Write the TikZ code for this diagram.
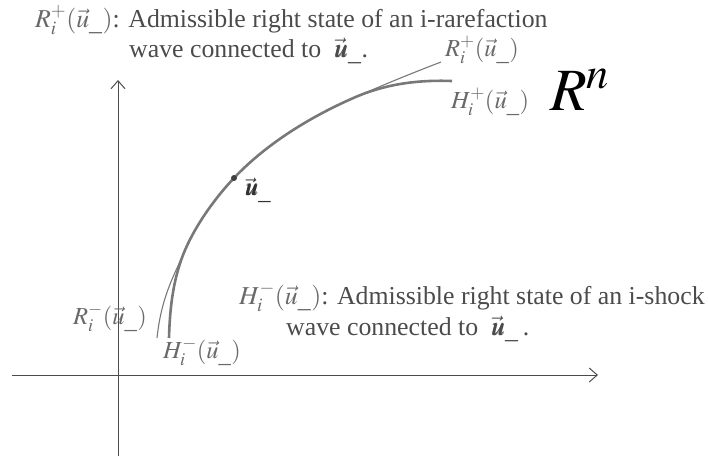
\documentclass[tikz,border=0pt]{standalone}
\usepackage{mathptmx}
\usepackage{bm}
\usepackage[no-math]{fontspec}
\setmainfont{Liberation Serif}
\usepackage{xcolor}
\usetikzlibrary{arrows.meta, positioning, calc}
\definecolor{curvegray}{RGB}{120,120,120}
\definecolor{labelgray}{RGB}{105,105,105}
\definecolor{textgray}{RGB}{75,75,75}
\newcommand{\um}{\vec{u}_{\_}}
\begin{document}
\begin{tikzpicture}[x=1pt, y=-1pt, font=\fontsize{24.5}{29}\selectfont,
  axis/.style={draw=black!70, line width=1pt, -{Straight Barb[length=8pt, width=14pt]}},
  lbl/.style={text=labelgray, inner sep=0pt},
  note/.style={text=textgray, inner sep=0pt, anchor=base west, font=\fontsize{25.8}{30}\selectfont}]
  \useasboundingbox (0,0) rectangle (708,456);
  % axes
  \coordinate (xl) at (12,375);
  \coordinate (xr) at (598,375);
  \coordinate (yb) at (118,456);
  \coordinate (yt) at (118,80);
  \draw[axis] (xl) -- (xr);
  \draw[axis] (yb) -- (yt);
  % wave curves
  \coordinate (um) at (234,178);
  \coordinate (lo) at (183,255);
  \coordinate (hi) at (358,96);
  \coordinate (Rlo) at (157,338);
  \coordinate (Hlo) at (169,338);
  \coordinate (Rhi) at (441,62);
  \coordinate (Hhi) at (452,81);
  \draw[curvegray, line width=1.1pt] (Rlo) .. controls (161,300) and (172,279) .. (lo)
    .. controls (194,227) and (215,198) .. (um)
    .. controls (270,140) and (318,113) .. (hi)
    .. controls (390,82) and (415,72) .. (Rhi);
  \draw[curvegray, line width=2.6pt] (Hlo) .. controls (170,300) and (175,276) .. (lo)
    .. controls (194,227) and (215,198) .. (um)
    .. controls (270,140) and (318,113) .. (hi)
    .. controls (392,82) and (425,80) .. (Hhi);
  \fill[black!75] (um) circle (3pt);
  \node[inner sep=0pt, text=black!80] (umlbl) at (258,190) {$\bm{\um}$};
  % curve labels
  \node[lbl] (Rplus) at (482,50) {$R_i^+(\um)$};
  \node[lbl] (Hplus) at (490,102) {$H_i^+(\um)$};
  \node[lbl] (Rminus) at (110,318) {$R_i^-(\um)$};
  \node[lbl] (Hminus) at (202,352) {$H_i^-(\um)$};
  \node[inner sep=0pt] (space) at (580,90) {\fontsize{60}{64}\selectfont$R^n$};
  % explanations
  \node[note] (topA) at (35,27) {\textcolor{labelgray}{$R_i^+(\um)$}: Admissible right state of an i-rarefaction};
  \node[note] (topB) at (129,57) {wave connected to \ $\bm{\um}$.};
  \node[note] (botA) at (239,304) {\textcolor{labelgray}{$H_i^-(\um)$}: Admissible right state of an i-shock};
  \node[note] (botB) at (286,335) {wave connected to \ $\bm{\um}$\,.};
\end{tikzpicture}
\end{document}
